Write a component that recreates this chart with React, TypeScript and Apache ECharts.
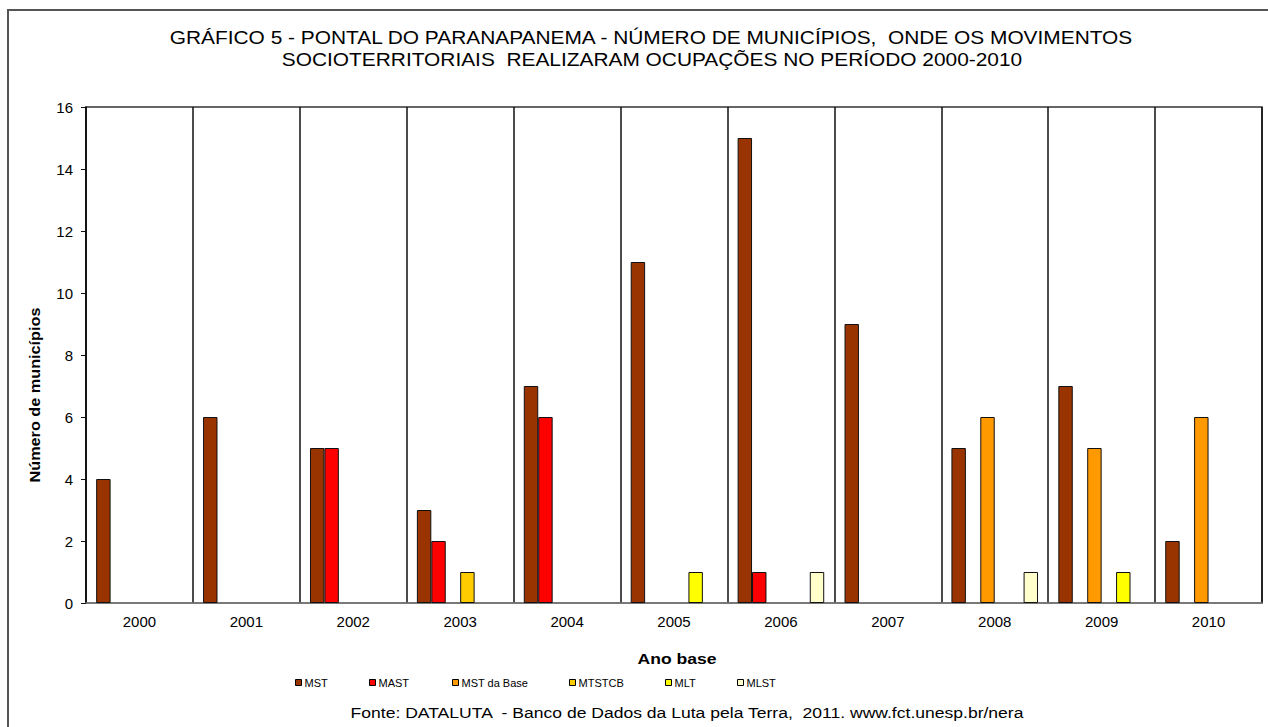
import React, { useEffect, useRef } from "react";
import * as echarts from "echarts";

const categories = ["2000", "2001", "2002", "2003", "2004", "2005", "2006", "2007", "2008", "2009", "2010"];
const seriesNames = ["MST", "MAST", "MST da Base", "MTSTCB", "MLT", "MLST"];
const mst = [4, 6, 5, 3, 7, 11, 15, 9, 5, 7, 2];
const mast = [0, 0, 5, 2, 6, 0, 1, 0, 0, 0, 0];
const mstDaBase = [0, 0, 0, 0, 0, 0, 0, 0, 6, 5, 6];
const mtstcb = [0, 0, 0, 1, 0, 0, 0, 0, 0, 0, 0];
const mlt = [0, 0, 0, 0, 0, 1, 0, 0, 0, 1, 0];
const mlst = [0, 0, 0, 0, 0, 0, 1, 0, 1, 0, 0];
const seriesValues = [mst, mast, mstDaBase, mtstcb, mlt, mlst];
const colors = ["#993300", "#FF0000", "#FF9900", "#FFCC00", "#FFFF00", "#FFFFCC"];
const legendLefts = [295, 369, 452, 569, 665, 737];
const titleLines = [
  "GRÁFICO 5 - PONTAL DO PARANAPANEMA - NÚMERO DE MUNICÍPIOS,  ONDE OS MOVIMENTOS",
  "SOCIOTERRITORIAIS  REALIZARAM OCUPAÇÕES NO PERÍODO 2000-2010",
];
const sourceText = "Fonte: DATALUTA  - Banco de Dados da Luta pela Terra,  2011. www.fct.unesp.br/nera";

const FONT = "Arial, 'Liberation Sans', sans-serif";

export default function App() {
  const ref = useRef<HTMLDivElement>(null);
  useEffect(() => {
    document.body.style.margin = "0";
    const chart = echarts.init(ref.current!, null, { renderer: "svg" });
    const series = seriesNames.map((name, i) => ({
      name,
      type: "bar",
      data: seriesValues[i].map((v) => (v === 0 ? "-" : v)),
      barGap: "0%",
      barCategoryGap: "19%",
      itemStyle: { color: colors[i], borderColor: "#111", borderWidth: 1 },
    }));
    const legends = seriesNames.map((name, i) => ({
      data: [name],
      left: legendLefts[i],
      top: 677,
      itemWidth: 6,
      itemHeight: 6,
      itemGap: 2,
      icon: "rect",
      padding: 0,
      textStyle: { fontFamily: FONT, fontSize: 11, color: "#000", padding: [0, 0, 0, -2] },
      itemStyle: { borderColor: "#000", borderWidth: 1 },
    }));
    const txt = (text: string, x: number, y: number, size: number, sx: number, bold = false, rotation = 0) => ({
      type: "text",
      x,
      y,
      scaleX: sx,
      rotation,
      silent: true,
      style: {
        text,
        fontFamily: FONT,
        fontSize: size,
        fontWeight: bold ? "bold" : "normal",
        fill: "#000",
        align: "center",
        verticalAlign: "middle",
      },
    });
    chart.setOption({
      animation: false,
      backgroundColor: "#fff",
      color: colors,
      legend: legends,
      grid: {
        left: 86,
        right: 6,
        top: 107,
        bottom: 124,
        show: true,
        borderColor: "#333",
        borderWidth: 1.5,
      },
      xAxis: {
        type: "category",
        data: categories,
        axisLine: { lineStyle: { color: "#808080", width: 1.5 } },
        axisTick: { show: false },
        axisLabel: { fontFamily: FONT, fontSize: 15, color: "#000", margin: 11 },
        splitLine: { show: true, lineStyle: { color: "#111", width: 1.5 } },
      },
      yAxis: {
        type: "value",
        min: 0,
        max: 16,
        interval: 2,
        axisLine: { show: true, lineStyle: { color: "#111", width: 1.5 } },
        axisTick: { show: true, length: 5, lineStyle: { color: "#111" } },
        axisLabel: { fontFamily: FONT, fontSize: 15, color: "#000", margin: 13 },
        splitLine: { show: false },
      },
      series,
      graphic: [
        {
          type: "rect",
          shape: { x: 8, y: 10, width: 1300, height: 760 },
          style: { fill: "none", stroke: "#555", lineWidth: 2 },
          silent: true,
        },
        txt(titleLines[0], 651, 38, 18, 1.16),
        txt(titleLines[1], 652, 60, 18, 1.16),
        txt("Número de municípios", 35, 395, 14, 1.16, true, Math.PI / 2),
        txt("Ano base", 677, 658, 15, 1.17, true),
        txt(sourceText, 687, 712, 15, 1.17),
      ],
    });
    return () => chart.dispose();
  }, []);
  return <div ref={ref} style={{ width: 1268, height: 727 }} />;
}
